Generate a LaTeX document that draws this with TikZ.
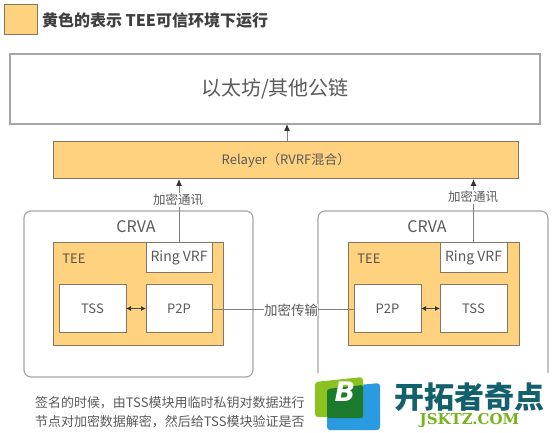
\documentclass[tikz,border=0pt]{standalone}
\usepackage{fontspec}
\setmainfont{Noto Sans CJK SC}
\newfontfamily\logoserif{DejaVu Serif}
\newfontfamily\logosans{DejaVu Sans}
\usetikzlibrary{arrows.meta}
\definecolor{teeorange}{HTML}{FFD280}
\definecolor{edgebrown}{HTML}{85765F}
\definecolor{edgegray}{HTML}{A6A6A6}
\definecolor{linegray}{HTML}{7F7F7F}
\definecolor{txtgray}{HTML}{595959}
\definecolor{logodark}{HTML}{12606B}
\definecolor{logolime}{HTML}{8CC21F}
\definecolor{logoblue}{HTML}{2A9BE0}
\definecolor{logogreen}{HTML}{1B7A2C}
\definecolor{logotext}{HTML}{74B31B}
\tikzset{
 x=1pt,y=-1pt,
 lbl/.style={inner sep=0pt,outer sep=0pt,text=txtgray,font=\fontsize{#1}{#1}\selectfont},
 lbl/.default=13,
 boxbase/.style={draw,inner sep=0pt,outer sep=0pt,anchor=north west,text=txtgray},
 orangebox/.style={boxbase,draw=edgebrown,fill=teeorange,line width=1pt},
 whitebox/.style={boxbase,draw=edgebrown,fill=white,line width=1pt},
 chainbox/.style={boxbase,draw=edgegray,fill=white,line width=1.2pt},
 crvabox/.style={boxbase,draw=edgegray,fill=white,line width=1.2pt,rounded corners=7pt},
 conn/.style={draw=linegray,line width=1pt},
 tip/.style={-{Latex[length=7pt,width=6pt,black!80]}},
 bothtip/.style={{Latex[length=5pt,width=5pt,black!80]}-{Latex[length=5pt,width=5pt,black!80]},draw=black!70,line width=1pt},
}
\newcommand{\boxat}[6]{\node[#1,minimum width=#4pt,minimum height=#5pt] (#2) at (#3) {#6};}
\begin{document}
\begin{tikzpicture}
\useasboundingbox (0,0) rectangle (555,433);
% legend
\boxat{orangebox}{legend}{4,5}{33}{30}{}
\node[lbl=14,anchor=west,text=black!75,font=\fontsize{16}{16}\selectfont\bfseries] (legendtext) at (42,20) {黄色的表示 TEE可信环境下运行};
% top boxes
\boxat{chainbox}{chain}{10,54}{530}{70}{\raisebox{-2.5pt}{\fontsize{20}{20}\selectfont 以太坊/其他公链}}
\boxat{orangebox}{relayer}{53.5,142}{465}{37}{\raisebox{-1.5pt}{\fontsize{13}{13}\selectfont Relayer（RVRF混合）}}
\coordinate (relayerup) at (287,142);
\coordinate (chainin) at (287,124);
\draw[conn,tip] (relayerup) -- (chainin);
% left CRVA
\boxat{crvabox}{crvaL}{24,211}{229}{166}{}
\node[lbl=16] (crvaLt) at (136,227) {CRVA};
\boxat{orangebox}{teeL}{53,243}{170}{102}{}
\node[lbl=13,text=edgebrown!70!black] (teeLt) at (74,259) {TEE};
\boxat{whitebox}{ringL}{146,243}{66}{30}{\fontsize{14}{14}\selectfont Ring VRF}
\boxat{whitebox}{tssL}{59,285}{67}{47}{\fontsize{13}{13}\selectfont TSS}
\boxat{whitebox}{pL}{146,285}{66}{47}{\fontsize{13}{13}\selectfont P2P}
\draw[bothtip] (tssL) -- (pL);
% right CRVA
\draw[draw=edgegray,line width=1.2pt,rounded corners=7pt] (318,373) -- (318,211) -- (548,211) -- (548,373);
\node[lbl=16] (crvaRt) at (427,227) {CRVA};
\boxat{orangebox}{teeR}{348,243}{171}{102}{}
\node[lbl=13,text=edgebrown!70!black] (teeRt) at (369,259) {TEE};
\boxat{whitebox}{ringR}{440,243}{67}{30}{\fontsize{14}{14}\selectfont Ring VRF}
\boxat{whitebox}{pR}{354,285}{67}{47}{\fontsize{13}{13}\selectfont P2P}
\boxat{whitebox}{tssR}{440,285}{67}{47}{\fontsize{13}{13}\selectfont TSS}
\draw[bothtip] (pR) -- (tssR);
% connectors to relayer
\coordinate (relayerL) at (ringL.north |- relayer.south);
\coordinate (relayerR) at (ringR.north |- relayer.south);
\draw[conn,tip] (ringL.north) -- (relayerL);
\draw[conn,tip] (ringR.north) -- (relayerR);
\node[lbl=12.5,fill=white,inner ysep=1pt] (encL) at (178,200) {加密通讯};
\node[lbl=12.5,fill=white,inner ysep=1pt] (encR) at (473,197) {加密通讯};
% p2p link
\draw[conn] (pL.east |- 0,309) -- (pR.west |- 0,309);
\node[lbl=13.5,fill=white,inner xsep=0pt] (enc) at (291,310) {加密传输};
% bottom text
\node[lbl=13,anchor=west] (noteA) at (35,403) {签名的时候，由TSS模块用临时私钥对数据进行};
\node[lbl=13,anchor=west] (noteB) at (35,422) {节点对加密数据解密，然后给TSS模块验证是否};
% logo
\fill[white] (310,375) rectangle (555,433);
\fill[logoblue,rounded corners=3pt] (327,388) -- (380,383) -- (380,430) -- (327,430) -- cycle;
\fill[logolime,rounded corners=3pt] (315,382) -- (363,377) -- (363,418) -- (315,417) -- cycle;
\fill[logogreen,rounded corners=2pt] (327,389) -- (363,385) -- (363,418) -- (327,418) -- cycle;
\node[inner sep=0pt,text=white,font=\logosans\fontsize{27}{27}\selectfont\bfseries\itshape] (logoB) at (345,392) {B};
\node[inner sep=0pt,text=logodark,font=\fontsize{30}{30}\selectfont\bfseries] (logoname) at (469,397) {开拓者奇点};
\node[inner sep=0pt,text=logotext,font=\logoserif\fontsize{15}{15}\selectfont\bfseries] (logourl) at (469.5,420) {JSKTZ.COM};
\end{tikzpicture}
\end{document}
